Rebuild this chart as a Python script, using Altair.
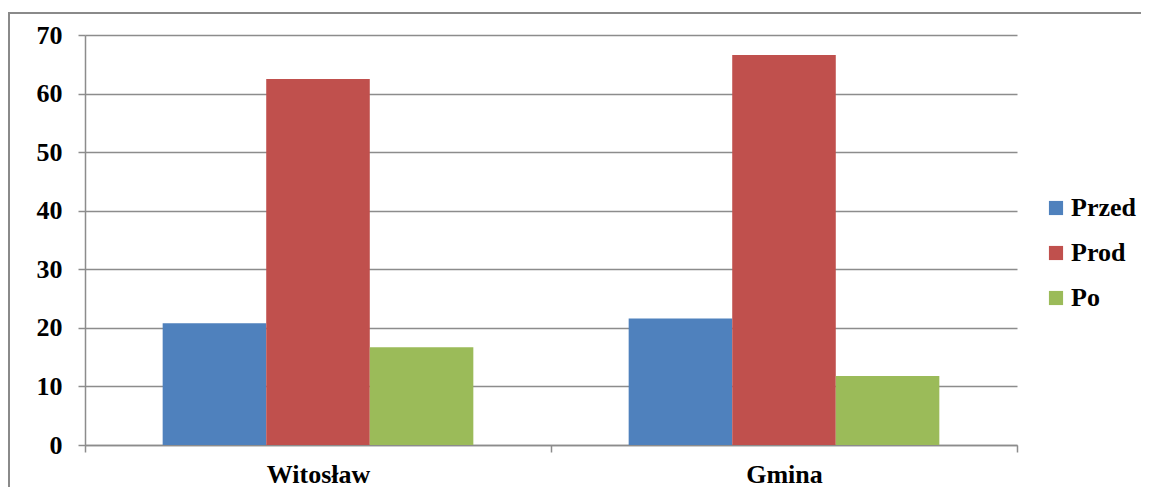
import altair as alt
import pandas as pd

categories = ["Witosław", "Gmina"]
series = ["Przed", "Prod", "Po"]
values = {
    "Przed": [20.8, 21.6],
    "Prod": [62.5, 66.6],
    "Po": [16.7, 11.8],
}
colors = ["#4F81BD", "#C0504D", "#9BBB59"]

rows = []
for s in series:
    for c, v in zip(categories, values[s]):
        rows.append({"kategoria": c, "seria": s, "wartosc": v})
df = pd.DataFrame(rows)

FONT = "Liberation Serif"
GRID = "#8c8c8c"
FS = 26

bars = alt.Chart(df).mark_bar().encode(
    x=alt.X("kategoria:N", sort=categories, title=None,
            scale=alt.Scale(paddingInner=0, paddingOuter=0),
            axis=alt.Axis(labelAngle=0, tickBand="extent", tickSize=7,
                          labelPadding=9, labelFont=FONT, labelFontSize=FS,
                          labelFontWeight="bold", labelColor="black",
                          domainColor=GRID, tickColor=GRID, domainWidth=1.5,
                          tickWidth=1.5, grid=False)),
    xOffset=alt.XOffset("seria:N", sort=series,
                        scale=alt.Scale(paddingInner=0, paddingOuter=0.75)),
    y=alt.Y("wartosc:Q", title=None,
            scale=alt.Scale(domain=[0, 70], nice=False),
            axis=alt.Axis(values=list(range(0, 71, 10)), tickSize=7,
                          labelPadding=16, labelFont=FONT, labelFontSize=FS,
                          labelFontWeight="bold", labelColor="black",
                          domainColor=GRID, tickColor=GRID, gridColor=GRID,
                          domainWidth=1.5, tickWidth=1.5, gridWidth=1.5,
                          gridOpacity=1)),
    color=alt.Color("seria:N", sort=series,
                    scale=alt.Scale(domain=series, range=colors),
                    legend=alt.Legend(title=None, orient="none", legendX=958,
                                      legendY=160, symbolType="square",
                                      symbolSize=200, symbolStrokeWidth=0,
                                      labelFont=FONT, labelFontSize=FS,
                                      labelFontWeight="bold", labelColor="black",
                                      rowPadding=19, labelOffset=2)),
)

border = alt.Chart(pd.DataFrame({"b": [0]})).mark_rect(
    fill=None, stroke="#8a8a8a", strokeWidth=2
).encode(
    x=alt.value(-76), x2=alt.value(1080), y=alt.value(-22), y2=alt.value(480)
)

chart = alt.layer(border, bars).properties(
    width=932, height=410,
    autosize=alt.AutoSizeParams(type="none"),
    padding={"left": 77, "top": 27, "right": 124, "bottom": 45},
).configure_view(stroke=None)

chart.save("out.html", embed_options={"renderer": "svg", "actions": False})
